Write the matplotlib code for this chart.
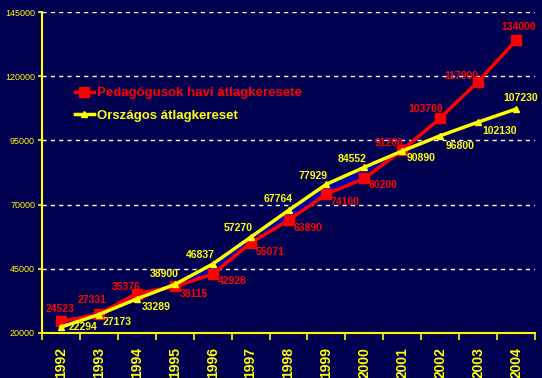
import matplotlib
matplotlib.use("Agg")
from matplotlib import pyplot as plt
from matplotlib.lines import Line2D

years = ["1992", "1993", "1994", "1995", "1996", "1997", "1998",
         "1999", "2000", "2001", "2002", "2003", "2004"]
teachers = [24523, 27331, 35376, 38115, 42928, 55071, 63890,
            74100, 80200, 91200, 103700, 117900, 134000]
national = [22294, 27173, 33289, 38900, 46837, 57270, 67764,
            77929, 84552, 90890, 96800, 102130, 107230]
yticks = [20000, 45000, 70000, 95000, 120000, 145000]

# label offsets in pixels (x right, y up)
red_off = [(-1, 12), (-7, 14), (-11, 7), (19, -8), (20, -7), (20, -9), (20, -8),
           (19, -8), (19, -7), (-13, 7), (-15, 9), (-17, 6), (3, 13)]
yel_off = [(22, 0), (18, -7), (19, -8), (-11, 10), (-12, 9), (-12, 9), (-10, 11),
           (-13, 8), (-12, 8), (19, -7), (20, -10), (22, -9), (5, 11)]

bg = "#000050"
red = "#ff0000"
yellow = "#ffff00"
font = "Liberation Sans"

fig = plt.figure(figsize=(5.42, 3.78), dpi=100, facecolor=bg)
ax = fig.add_axes([42 / 542, 1 - 333 / 378, 493 / 542, 321 / 378], facecolor=bg)

x = list(range(len(years)))
# blue band between the two series up to the crossing year
ax.fill_between(x, teachers, national, where=[i <= 9 for i in x],
                color="#0000a8", lw=0, zorder=1)
ax.plot(x, teachers, color=red, lw=2.5, marker="s", ms=7.5, zorder=3)
ax.plot(x, national, color=yellow, lw=2.5, marker="^", ms=4.5, zorder=4)

for i in x:
    ax.annotate(str(teachers[i]), (i, teachers[i]), xytext=red_off[i],
                textcoords="offset pixels", ha="center", va="center",
                color=red, fontsize=7.5, fontweight="bold", family=font, zorder=5)
    ax.annotate(str(national[i]), (i, national[i]), xytext=yel_off[i],
                textcoords="offset pixels", ha="center", va="center",
                color=yellow, fontsize=7.5, fontweight="bold", family=font, zorder=5)

ax.set_xlim(-0.5, len(years) - 0.5)
ax.set_ylim(20000, 145000)
ax.set_yticks(yticks)
ax.set_yticklabels([str(v) for v in yticks], color=yellow, fontsize=6.5, family=font)
ax.yaxis.grid(True, color="white", ls=(0, (3, 3)), lw=1)
ax.set_axisbelow(True)

ax.set_xticks([i - 0.5 for i in range(len(years) + 1)], minor=False)
ax.set_xticklabels([])
ax.set_xticks(x, minor=True)
ax.set_xticklabels(years, minor=True, rotation=90, color=yellow, fontsize=10,
                   fontweight="bold", family=font)
ax.tick_params(axis="x", which="major", direction="out", length=5, color=yellow, width=1.2)
ax.tick_params(axis="x", which="minor", length=0, pad=10)
ax.tick_params(axis="y", direction="out", length=3, color=yellow, width=1.2, pad=2)

for s in ["top", "right"]:
    ax.spines[s].set_visible(False)
for s in ["left", "bottom"]:
    ax.spines[s].set_color(yellow)
    ax.spines[s].set_linewidth(1.5)

handles = [Line2D([], [], color=red, lw=2.5, marker="s", ms=7.5),
           Line2D([], [], color=yellow, lw=2.5, marker="^", ms=4.5)]
leg = ax.legend(handles, ["Pedagógusok havi átlagkeresete", "Országos átlagkereset"],
                loc="upper left", bbox_to_anchor=(24 / 493, 1 - 66 / 321),
                frameon=False, handlelength=1.4, handletextpad=0.25, labelspacing=0.75,
                borderaxespad=0.3,
                prop={"family": font, "weight": "bold", "size": 9.5})
leg.get_texts()[0].set_color(red)
leg.get_texts()[1].set_color(yellow)

fig.savefig("out.png", dpi=100, facecolor=bg)
